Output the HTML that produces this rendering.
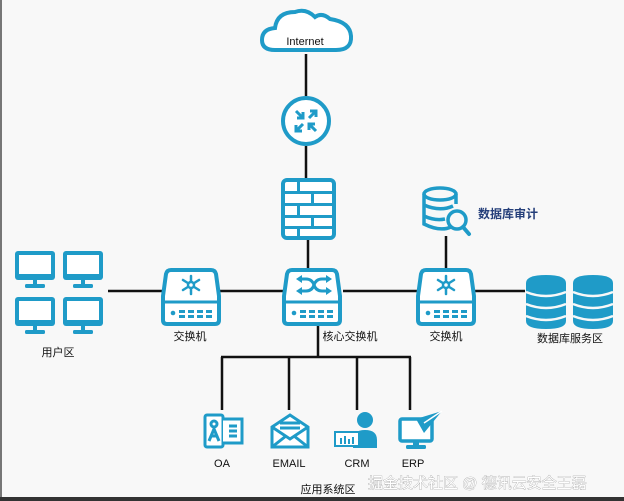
<!DOCTYPE html>
<html><head><meta charset="utf-8"><style>
body{margin:0;background:#f8f8f8;}
svg{display:block}
text{font-family:"Liberation Sans","Noto Sans CJK SC",sans-serif;}
</style></head><body>
<svg width="624" height="501" viewBox="0 0 624 501" xmlns="http://www.w3.org/2000/svg">
<defs>
<g id="sw">
<path d="M8,2 H48 Q52,2 53,6 L56,28 V52 Q56,56 52,56 H4 Q0,56 0,52 V28 L3,6 Q4,2 8,2 Z" fill="#fff" stroke="#1f9bc8" stroke-width="4"/>
<line x1="1" y1="34" x2="55" y2="34" stroke="#1f9bc8" stroke-width="3"/>
<circle cx="10" cy="45" r="2.3" fill="#1f9bc8"/>
<g fill="#1f9bc8"><rect x="16" y="42" width="6" height="3"/><rect x="25" y="42" width="6" height="3"/><rect x="34" y="42" width="6" height="3"/><rect x="43" y="42" width="6" height="3"/><rect x="16" y="47" width="6" height="3"/><rect x="25" y="47" width="6" height="3"/><rect x="34" y="47" width="6" height="3"/><rect x="43" y="47" width="6" height="3"/></g>
</g>
<g id="star" stroke="#1f9bc8" stroke-width="2.5" stroke-linecap="round">
<line x1="0" y1="-9" x2="0" y2="9"/><line x1="-8" y1="-5" x2="8" y2="5"/><line x1="-8" y1="5" x2="8" y2="-5"/>
<circle r="3" fill="#fff"/>
</g>
<g id="mon">
<rect x="0" y="0" width="40" height="29" rx="3" fill="#1f9bc8"/>
<rect x="4" y="4" width="32" height="19" fill="#fff"/>
<rect x="18" y="28" width="4" height="6" fill="#1f9bc8"/>
<rect x="10" y="33" width="20" height="4" rx="1.5" fill="#1f9bc8"/>
</g>
<g id="db">
<path d="M0,8 Q0,0 20,0 Q40,0 40,8 V46 Q40,54 20,54 Q0,54 0,46 Z" fill="#1f9bc8"/>
<g fill="none" stroke="#f8f8f8" stroke-width="2.5">
<path d="M0,17 Q20,25 40,17"/><path d="M0,29 Q20,37 40,29"/><path d="M0,41 Q20,49 40,41"/>
</g>
</g>
</defs>
<rect x="0" y="0" width="624" height="501" fill="#f8f8f8"/>
<rect x="0" y="0" width="2" height="497" fill="#777"/>
<rect x="0" y="497" width="624" height="4" fill="#333"/>

<g stroke="#111" stroke-width="2.5">
<line x1="306" y1="54" x2="306" y2="96"/>
<line x1="306" y1="146" x2="306" y2="178"/>
<line x1="308" y1="240" x2="308" y2="270"/>
<line x1="108" y1="291" x2="162" y2="291"/>
<line x1="220" y1="291" x2="283" y2="291"/>
<line x1="343" y1="291" x2="418" y2="291"/>
<line x1="474" y1="291" x2="525" y2="291"/>
<line x1="446" y1="236" x2="446" y2="268"/>
<line x1="318" y1="325" x2="318" y2="357"/>
<line x1="221" y1="357" x2="411" y2="357"/>
<line x1="222" y1="357" x2="222" y2="410"/>
<line x1="289" y1="357" x2="289" y2="410"/>
<line x1="357" y1="357" x2="357" y2="410"/>
<line x1="410" y1="357" x2="410" y2="410"/>
</g>

<path d="M275,50 Q262,50 262,40 Q262,29 275,28 Q277,12 295,12 Q306,8 315,17 Q322,12 330,19 Q350,22 351,36 Q352,50 336,50 Z" fill="#fff" stroke="#1f9bc8" stroke-width="4"/>
<text x="305" y="45" font-size="11" text-anchor="middle" fill="#111">Internet</text>

<circle cx="306" cy="121" r="23" fill="#fff" stroke="#1f9bc8" stroke-width="4"/>
<g stroke="#1f9bc8" stroke-width="3" fill="none">
<path d="M296,111 L303,118 M303,112 V118 H297"/>
<path d="M309,118 L316,111 M310,111 H316 V117"/>
<path d="M303,124 L296,131 M296,125 V131 H302"/>
<path d="M316,131 L309,124 M315,124 H309 V130"/>
</g>

<rect x="283" y="180" width="51" height="58" rx="4" fill="#fff" stroke="#1f9bc8" stroke-width="4"/>
<g fill="#1f9bc8">
<rect x="283" y="191" width="51" height="3"/><rect x="283" y="203" width="51" height="3"/><rect x="283" y="215" width="51" height="3"/><rect x="283" y="226" width="51" height="3"/>
<rect x="297" y="180" width="3" height="12"/><rect x="311" y="192" width="3" height="12"/><rect x="297" y="204" width="3" height="12"/><rect x="311" y="216" width="3" height="11"/><rect x="297" y="227" width="3" height="11"/>
</g>

<g transform="translate(163,268)"><use href="#sw"/><use href="#star" transform="translate(28,17)"/></g>
<g transform="translate(418,268)"><use href="#sw"/><use href="#star" transform="translate(28,17)"/></g>
<g transform="translate(284,268)"><use href="#sw"/>
<g stroke="#1f9bc8" stroke-width="3" fill="none"><path d="M16,11 H22 Q28,11 30,17 Q32,23 38,23 H44"/><path d="M16,23 H22 Q28,23 30,17 Q32,11 38,11 H44"/></g>
<path d="M12,11 L18,7 V15Z M48,11 L42,7 V15Z M12,23 L18,19 V27Z M48,23 L42,19 V27Z" fill="#1f9bc8"/>
</g>
<g font-size="11" fill="#111" text-anchor="middle">
<text x="190" y="340">交换机</text>
<text x="350" y="340">核心交换机</text>
<text x="446" y="340">交换机</text>
</g>

<g transform="translate(423,188)">
<ellipse cx="17" cy="6" rx="16" ry="6" fill="none" stroke="#1f9bc8" stroke-width="3.5"/>
<path d="M1,6 V36 Q17,44 28,39" fill="none" stroke="#1f9bc8" stroke-width="3.5"/>
<path d="M33,6 V16" fill="none" stroke="#1f9bc8" stroke-width="3.5"/>
<path d="M1,17 Q17,24 30,18 M1,28 Q12,33 22,31" fill="none" stroke="#1f9bc8" stroke-width="3.5"/>
<circle cx="34" cy="32" r="9" fill="#f8f8f8" stroke="#1f9bc8" stroke-width="3.5"/>
<line x1="40" y1="39" x2="46" y2="46" stroke="#1f9bc8" stroke-width="4" stroke-linecap="round"/>
</g>
<text x="478" y="218" font-size="12" font-weight="bold" fill="#253f7a">数据库审计</text>

<use href="#mon" transform="translate(15,251)"/>
<use href="#mon" transform="translate(63,251)"/>
<use href="#mon" transform="translate(15,297)"/>
<use href="#mon" transform="translate(63,297)"/>
<text x="58" y="356" font-size="11" fill="#111" text-anchor="middle">用户区</text>

<use href="#db" transform="translate(526,275)"/>
<use href="#db" transform="translate(573,275)"/>
<text x="570" y="342" font-size="11" fill="#111" text-anchor="middle">数据库服务区</text>

<g transform="translate(204,413)" stroke="#1f9bc8" stroke-width="3" fill="#fff">
<rect x="1" y="2" width="18" height="32" rx="2"/>
<path d="M19,6 H38 V30 H19"/>
<circle cx="10" cy="11" r="3"/>
<path d="M5,28 L10,16 L15,28 M7,23 H13" fill="none"/>
<path d="M25,13 H33 M25,18 H33 M25,23 H33" fill="none"/>
</g>
<g transform="translate(270,413)" stroke="#1f9bc8" stroke-width="3" fill="none">
<path d="M2,14 L20,2 L38,14 V34 H2 Z" fill="#fff"/>
<path d="M2,14 L20,26 L38,14 M2,34 L16,23 M38,34 L24,23"/>
<path d="M10,10 H30 M10,15 H30"/>
</g>
<g transform="translate(335,410)">
<circle cx="30" cy="10" r="8" fill="#1f9bc8"/>
<path d="M18,38 V30 Q18,20 30,20 Q42,20 42,30 V38 Z" fill="#1f9bc8"/>
<rect x="0" y="22" width="24" height="14" fill="#fff" stroke="#1f9bc8" stroke-width="2"/>
<g fill="#1f9bc8"><rect x="5" y="28" width="2" height="6"/><rect x="9" y="26" width="2" height="8"/><rect x="13" y="29" width="2" height="5"/><rect x="17" y="27" width="2" height="7"/></g>
</g>
<g transform="translate(398,411)">
<rect x="2" y="8" width="32" height="22" rx="2" fill="#fff" stroke="#1f9bc8" stroke-width="3.5"/>
<rect x="15" y="30" width="6" height="5" fill="#1f9bc8"/>
<rect x="8" y="34" width="20" height="4" rx="1.5" fill="#1f9bc8"/>
<path d="M18,8 L44,0 L26,22 Z" fill="#1f9bc8"/>
<path d="M26,12 L44,0" stroke="#fff" stroke-width="1.5"/>
</g>
<g font-size="11" fill="#111" text-anchor="middle">
<text x="222" y="467">OA</text>
<text x="289" y="467">EMAIL</text>
<text x="357" y="467">CRM</text>
<text x="413" y="467">ERP</text>
<text x="328" y="493">应用系统区</text>
</g>
<text x="368" y="488" font-size="15" fill="#fff" stroke="#999" stroke-width="0.6" paint-order="stroke">掘金技术社区 @ 德讯云安全王磊</text>
</svg>
</body></html>
